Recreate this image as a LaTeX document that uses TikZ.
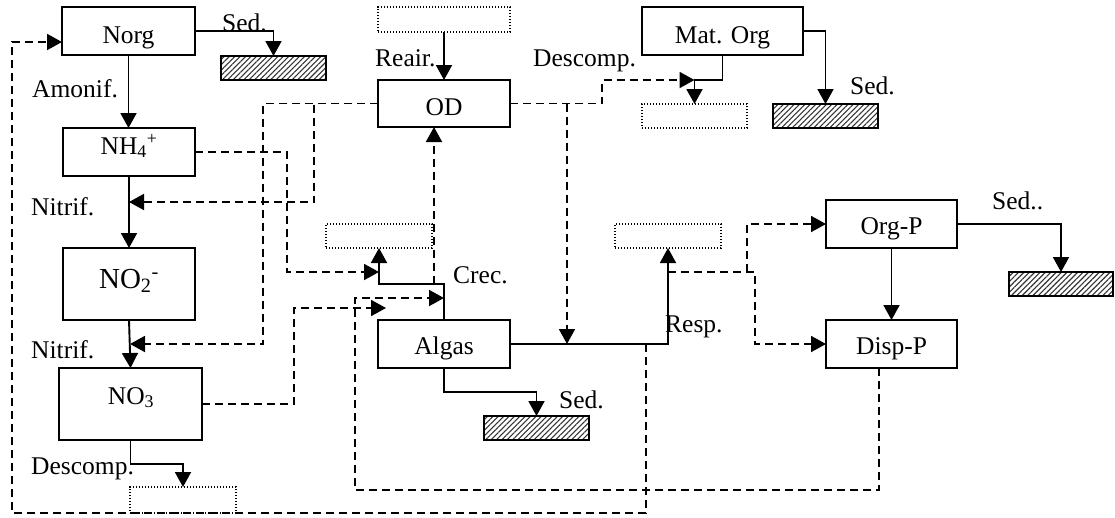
\documentclass[tikz,border=0pt]{standalone}
\usepackage{fontspec}
\setmainfont{Liberation Serif}
\usetikzlibrary{arrows.meta,patterns.meta}
\tikzset{
 bx/.style={draw, line width=1.9pt, inner sep=0pt, outer sep=0pt},
 dotbox/.style={draw, line width=1.5pt, dash pattern=on 1.4pt off 1.6pt, inner sep=0pt, outer sep=0pt},
 hatch/.style={draw, line width=1.9pt, inner sep=0pt, outer sep=0pt, pattern={Lines[angle=45,distance=3.8pt,line width=1.1pt]}, pattern color=black!80},
 txt/.style={inner sep=0pt, anchor=base, font=\fontsize{25.5}{30}\selectfont},
 lbl/.style={inner sep=0pt, anchor=base west, font=\fontsize{25.5}{30}\selectfont},
 conn/.style={line width=1.9pt, -{Triangle[length=15pt,width=16pt]}},
 dconn/.style={conn, dash pattern=on 8pt off 5pt},
}
\begin{document}
\begin{tikzpicture}[x=1pt,y=-1pt]
\useasboundingbox (0,0) rectangle (1115,517);
% main boxes
\node[bx, minimum width=133pt, minimum height=48pt] (norg) at (128.5,31) {};
\node[txt] (tnorg) at (128.5,43) {Norg};
\node[bx, minimum width=132pt, minimum height=48pt] (nh4) at (129,152) {};
\node[txt] (tnh4) at (129,154) {NH\textsubscript{4}\textsuperscript{+}};
\node[bx, minimum width=132pt, minimum height=72pt] (no2) at (129,284) {};
\node[txt, font=\fontsize{29}{34}\selectfont] (tno2) at (129,288) {NO\textsubscript{2}\textsuperscript{-}};
\node[bx, minimum width=143pt, minimum height=72pt] (no3) at (130.5,404) {};
\node[txt] (tno3) at (131,404) {NO\textsubscript{3}};
\node[bx, minimum width=132pt, minimum height=47pt] (od) at (444,103.5) {};
\node[txt] (tod) at (444,115) {OD};
\node[bx, minimum width=161pt, minimum height=48pt] (matorg) at (722.5,31) {};
\node[txt] (tmatorg) at (722.5,43) {Mat. Org};
\node[bx, minimum width=132pt, minimum height=48pt] (algas) at (444,344) {};
\node[txt] (talgas) at (444,354) {Algas};
\node[bx, minimum width=131pt, minimum height=48pt] (orgp) at (891.5,224) {};
\node[txt] (torgp) at (891.5,234) {Org-P};
\node[bx, minimum width=131pt, minimum height=48pt] (dispp) at (891.5,344) {};
\node[txt] (tdispp) at (891.5,354) {Disp-P};
% dotted boxes
\node[dotbox, minimum width=132pt, minimum height=25pt] (dtop) at (444,19.5) {};
\node[dotbox, minimum width=105pt, minimum height=24pt] (dod) at (694.5,116) {};
\node[dotbox, minimum width=106pt, minimum height=24pt] (dcrec) at (379,236) {};
\node[dotbox, minimum width=106pt, minimum height=24pt] (dresp) at (668,236) {};
\node[dotbox, minimum width=106pt, minimum height=26pt] (dno3) at (183,500) {};
% hatched boxes
\node[hatch, minimum width=105pt, minimum height=24pt] (s1) at (273.5,68) {};
\node[hatch, minimum width=105pt, minimum height=24pt] (s2) at (825.5,116) {};
\node[hatch, minimum width=105pt, minimum height=24pt] (s3) at (536.5,428) {};
\node[hatch, minimum width=104pt, minimum height=24pt] (s4) at (1061,284) {};
% labels
\node[lbl] (l1) at (222,31) {Sed.};
\node[lbl] (l2) at (32,97) {Amonif.};
\node[lbl] (l3) at (31,215) {Nitrif.};
\node[lbl] (l4) at (31,358) {Nitrif.};
\node[lbl] (l5) at (31,474) {Descomp.};
\node[lbl] (l6) at (375,66) {Reair.};
\node[lbl] (l7) at (533,66) {Descomp.};
\node[lbl] (l8) at (850,94) {Sed.};
\node[lbl] (l9) at (992,209) {Sed..};
\node[lbl] (l10) at (453,283) {Crec.};
\node[lbl] (l11) at (665,332) {Resp.};
\node[lbl] (l12) at (559,408) {Sed.};
% coordinates
\coordinate (j1) at (646,344);
\coordinate (a1) at (129,202);
\coordinate (a2) at (130,344);
\coordinate (a3) at (379,272);
\coordinate (a4) at (386,308);
\coordinate (a5) at (444,298);
\coordinate (j2) at (434,284);
\coordinate (a6) at (694.5,80);
\coordinate (j3) at (567,103.5);
\coordinate (a7) at (567,344);
\coordinate (j4) at (668,272);
\coordinate (j5) at (747,272);
% solid connectors
\draw[conn] (norg.east) -| (s1.north);
\draw[conn] (norg.south) -- (norg.south |- nh4.north);
\draw[conn] (nh4.south) -- (no2.north);
\draw[conn] (no2.south) -- (no3.north);
\draw[conn] (no3.south) -- ++(0,24) -| (dno3.north);
\draw[conn] (dtop.south) -- (od.north);
\draw[conn] (matorg.east) -| (s2.north);
\draw[conn] (matorg.south) -- ++(0,25) -| (dod.north);
\draw[conn] (algas.north) -- ++(0,-36) -| (dcrec.south);
\draw[conn] (algas.south) -- ++(0,24) -| (s3.north);
\draw[conn] (algas.east) -| (dresp.south);
\draw[conn] (orgp.south) -- (dispp.north);
\draw[conn] (orgp.east) -| (s4.north);
% dashed connectors
\draw[dconn] (j1) -- (646,513) -- (12,513) |- ([yshift=-11pt]norg.west);
\draw[dconn] (od.west) -| (314,202) -- (a1);
\draw[dconn] (od.west) -| (263,344) -- (a2);
\draw[dconn] (nh4.east) -| (287,272) -- (a3);
\draw[dconn] (no3.east) -| (294,308) -- (a4);
\draw[dconn] ([xshift=-12.5pt]dispp.south) -- (879,490) -- (355,490) |- (a5);
\draw[dconn] (j2) -- (j2 |- od.south);
\draw[dconn] (od.east) -| (602,80) -- (a6);
\draw[dconn] (j3) -- (a7);
\draw[dconn] (j4) -| (755,344) -- (dispp.west);
\draw[dconn] (j5) |- (orgp.west);
\end{tikzpicture}
\end{document}
